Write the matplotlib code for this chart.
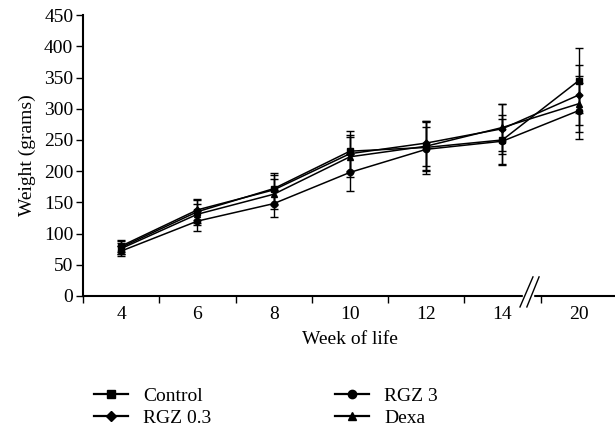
import matplotlib
matplotlib.use('Agg')
import matplotlib.pyplot as plt
from matplotlib.lines import Line2D
import numpy as np

plt.rcParams['font.family'] = ['Liberation Serif', 'DejaVu Serif']

weeks = ['4', '6', '8', '10', '12', '14', '20']

control = [78, 135, 172, 232, 238, 250, 345]
control_sd = [10, 18, 25, 32, 42, 40, 52]
rgz03 = [80, 138, 170, 228, 245, 268, 322]
rgz03_sd = [10, 17, 24, 30, 36, 40, 48]
rgz3 = [72, 120, 148, 198, 235, 248, 297]
rgz3_sd = [8, 16, 22, 30, 35, 36, 45]
dexa = [76, 131, 163, 223, 240, 270, 308]
dexa_sd = [9, 17, 24, 32, 38, 38, 45]

series = [
    ('Control', control, control_sd, 's'),
    ('RGZ 0.3', rgz03, rgz03_sd, 'D'),
    ('RGZ 3', rgz3, rgz3_sd, 'o'),
    ('Dexa', dexa, dexa_sd, '^'),
]
msize = {'s': 4, 'D': 3.5, 'o': 4.5, '^': 4.5}
fs = 14

fig = plt.figure(figsize=(6.15, 4.33), dpi=100)
ax = fig.add_axes([0.135, 0.3164, 0.868, 0.6487])

x = np.arange(len(weeks))
handles = {}
for name, vals, sd, mk in series:
    ax.errorbar(x, vals, yerr=sd, color='black', lw=1.1, marker=mk,
                ms=msize[mk], capsize=3, elinewidth=1, capthick=1)
    handles[name] = Line2D([], [], color='black', lw=1.6, marker=mk,
                           ms=msize[mk] + 1.5)

ax.set_xlim(-0.5, len(weeks) - 0.5)
ax.set_ylim(0, 450)
ax.set_yticks(range(0, 451, 50))
ax.set_xticks(x)
ax.set_xticklabels(weeks)
ax.set_xticks(np.arange(-0.5, len(weeks), 1), minor=True)
ax.tick_params(axis='x', which='major', length=0, labelsize=fs, pad=7)
ax.tick_params(axis='x', which='minor', length=5, width=1)
ax.tick_params(axis='y', length=5, width=1, labelsize=fs, pad=2)

for s in ['top', 'right']:
    ax.spines[s].set_visible(False)
for s in ['left', 'bottom']:
    ax.spines[s].set_linewidth(1.5)

ax.set_xlabel('Week of life', fontsize=fs, labelpad=6)
ax.set_ylabel('Weight (grams)', fontsize=fs, labelpad=6)

# axis break marks between week 14 and 20
trans = ax.get_xaxis_transform()
ax.fill([5.27, 5.40, 5.40, 5.27], [-0.012, -0.012, 0.012, 0.012], color='white',
        transform=trans, clip_on=False, zorder=5)
for x0, x1 in [(5.23, 5.40), (5.32, 5.48)]:
    ax.plot([x0, x1], [-0.039, 0.068], color='black', lw=1,
            transform=trans, clip_on=False, zorder=6)

order = ['Control', 'RGZ 0.3', 'RGZ 3', 'Dexa']
fig.legend([handles[n] for n in order], order, loc='center left',
           bbox_to_anchor=(0.124, 0.06), ncol=2, frameon=False,
           fontsize=fs, columnspacing=6.4, handlelength=1.75,
           labelspacing=0.2, handletextpad=0.77)

fig.savefig('out.png', dpi=100)
